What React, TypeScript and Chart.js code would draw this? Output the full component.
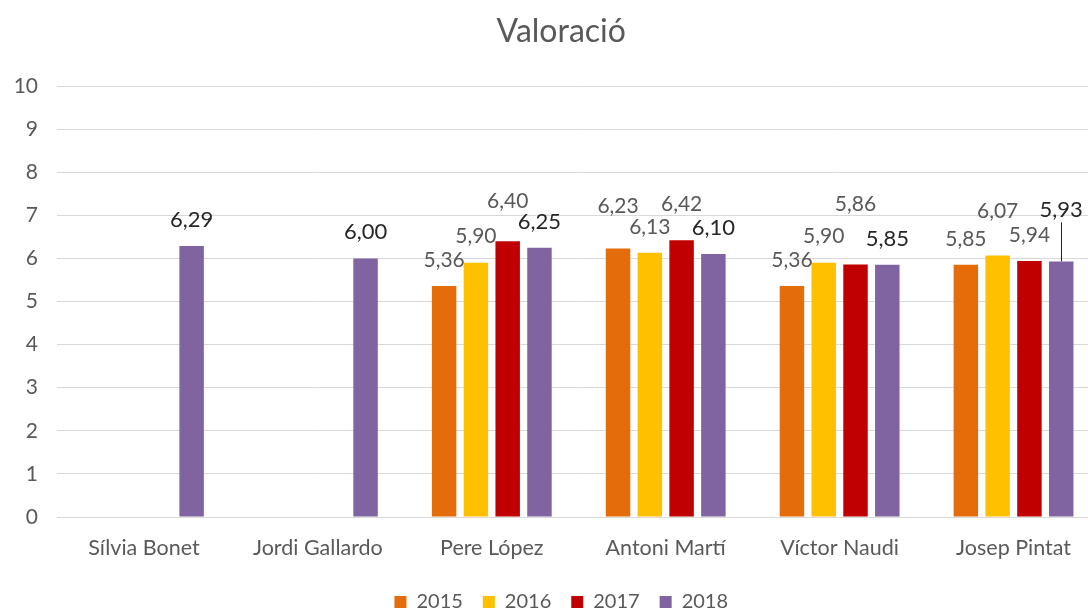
import React, { useEffect, useRef } from 'react';
import { Chart, registerables } from 'chart.js';

Chart.register(...registerables);

const TITLE = 'Valoració';
const CATEGORIES = ['Sílvia Bonet', 'Jordi Gallardo', 'Pere López', 'Antoni Martí', 'Víctor Naudi', 'Josep Pintat'];
const SERIES_NAMES = ['2015', '2016', '2017', '2018'];
const V2015 = [null, null, 5.36, 6.23, 5.36, 5.85];
const V2016 = [null, null, 5.9, 6.13, 5.9, 6.07];
const V2017 = [null, null, 6.4, 6.42, 5.86, 5.94];
const V2018 = [6.29, 6.0, 6.25, 6.1, 5.85, 5.93];
const Y_MIN = 0;
const Y_MAX = 10;
const Y_STEP = 1;

const COLORS = ['#E46C0A', '#FFC000', '#C00000', '#8064A2'];

// extra lift (px) of individual data labels, as placed in the original
const LABEL_NUDGE = [
  [0, 0, 0, 16, 0, 0],
  [0, 0, 0, 0, 0, 18],
  [0, 0, 14, 10, 34, 0],
  [0, 0, 0, 0, 0, 26],
];
const LEADERS = [
  [false, false, false, false, false, false],
  [false, false, false, false, false, false],
  [false, false, false, false, false, false],
  [false, false, false, false, false, true],
];
const LABEL_GAP = 26;

const FONT = 'Lato';
const GREY = '#595959';
const DARK = '#262626';
const GRID = '#D9D9D9';

const fmt = (v: number) => v.toFixed(2).replace('.', ',');

const labelPlugin = {
  id: 'barLabels',
  afterDatasetsDraw(chart: any) {
    const ctx = chart.ctx;
    ctx.save();
    ctx.textAlign = 'center';
    ctx.textBaseline = 'middle';
    chart.data.datasets.forEach((ds: any, i: number) => {
      const meta = chart.getDatasetMeta(i);
      meta.data.forEach((el: any, j: number) => {
        const v = ds.data[j];
        if (v == null) return;
        const strong = i === 3;
        const y = el.y - LABEL_GAP - LABEL_NUDGE[i][j];
        ctx.font = (strong ? '22px ' : '21px ') + FONT;
        ctx.fillStyle = strong ? DARK : GREY;
        ctx.fillText(fmt(v), el.x, y);
        if (LEADERS[i][j]) {
          ctx.beginPath();
          ctx.strokeStyle = DARK;
          ctx.lineWidth = 1;
          ctx.moveTo(Math.round(el.x) + 0.5, y + 13);
          ctx.lineTo(Math.round(el.x) + 0.5, el.y);
          ctx.stroke();
        }
      });
    });
    ctx.restore();
  },
};

export default function App() {
  const ref = useRef<HTMLCanvasElement>(null);

  useEffect(() => {
    document.body.style.overflow = 'hidden';
    const seriesValues = [V2015, V2016, V2017, V2018];
    const chart = new Chart(ref.current as HTMLCanvasElement, {
      type: 'bar',
      data: {
        labels: CATEGORIES,
        datasets: SERIES_NAMES.map((name, i) => ({
          label: name,
          data: seriesValues[i],
          backgroundColor: COLORS[i],
          borderWidth: 0,
          categoryPercentage: 0.731,
          barPercentage: 0.77,
          yAxisID: 'y',
        })),
      },
      options: {
        responsive: false,
        animation: false,
        devicePixelRatio: 1,
        layout: { padding: { left: 10, right: 9.5, top: 0, bottom: 0 } },
        plugins: {
          title: {
            display: true,
            text: TITLE,
            color: GREY,
            font: { family: FONT, size: 32, weight: 'normal', lineHeight: 1.2 },
            padding: { top: 12, bottom: 35.6 },
          },
          legend: {
            display: true,
            position: 'bottom',
            labels: {
              color: GREY,
              font: { family: FONT, size: 20 },
              boxWidth: 12,
              boxHeight: 12,
              padding: 20,
            },
          },
          tooltip: { enabled: false },
        },
        scales: {
          x: {
            grid: { display: false, drawTicks: false },
            border: { display: true, color: GRID, width: 1 },
            ticks: { color: GREY, font: { family: FONT, size: 21.5 }, padding: 18, maxRotation: 0, autoSkip: false },
            afterFit: (s: any) => { s.height = 55; },
          },
          y: {
            position: 'left',
            min: Y_MIN,
            max: Y_MAX,
            grid: { color: GRID, drawTicks: false, lineWidth: 1 },
            border: { display: false },
            ticks: { stepSize: Y_STEP, color: GREY, font: { family: FONT, size: 21 }, padding: 19 },
            afterFit: (s: any) => { s.width = 47; },
          },
          yR: {
            position: 'right',
            display: true,
            grid: { display: false, drawTicks: false },
            border: { display: false },
            ticks: { display: false },
            afterFit: (s: any) => { s.width = 12; },
          },
        },
      },
      plugins: [labelPlugin],
    } as any);
    return () => chart.destroy();
  }, []);

  return (
    <div style={{ position: 'fixed', left: 0, top: 0, width: 1122, height: 622, background: '#fff' }}>
      <canvas ref={ref} width={1122} height={622} />
    </div>
  );
}
